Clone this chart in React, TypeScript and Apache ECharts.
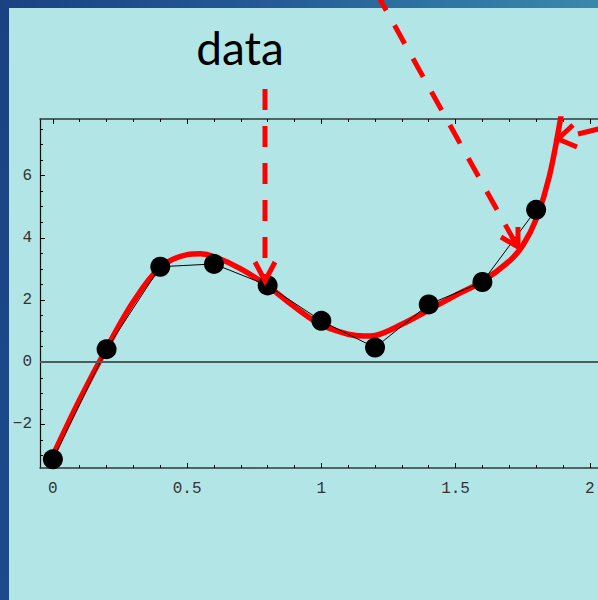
import React, { useEffect, useRef } from "react";
import * as echarts from "echarts";

// measured data points
const dataX = [0, 0.2, 0.4, 0.6, 0.8, 1.0, 1.2, 1.4, 1.6, 1.8];
const dataY = [-3.12, 0.42, 3.07, 3.16, 2.47, 1.33, 0.47, 1.86, 2.58, 4.9];

// fitted curve
const fitX = [0, 0.1, 0.2, 0.3, 0.4, 0.5, 0.55, 0.6, 0.7, 0.8, 0.9, 1.0, 1.1, 1.16, 1.2, 1.3, 1.4, 1.5, 1.6, 1.7, 1.75, 1.8, 1.85, 1.9];
const fitY = [-3.0, -1.2, 0.45, 1.95, 3.05, 3.46, 3.49, 3.4, 3.0, 2.45, 1.78, 1.2, 0.9, 0.84, 0.86, 1.22, 1.68, 2.15, 2.6, 3.25, 3.75, 4.6, 6.0, 8.3];

// tick marks and labels
const xMajor = [0, 0.5, 1, 1.5, 2];
const xMinor = [0.1, 0.2, 0.3, 0.4, 0.6, 0.7, 0.8, 0.9, 1.1, 1.2, 1.3, 1.4, 1.6, 1.7, 1.8, 1.9];
const yMajor = [-2, 0, 2, 4, 6];
const yMinor = [-3, -2.5, -1.5, -1, -0.5, 0.5, 1, 1.5, 2.5, 3, 3.5, 4.5, 5, 5.5, 6.5, 7, 7.5];

const annotationText = "data";

const X_MIN = -0.048;
const X_MAX = 2.038;
const Y_MIN = -3.4;
const Y_MAX = 7.82;

export default function App() {
  const ref = useRef<HTMLDivElement>(null);

  useEffect(() => {
    if (!ref.current) return;
    const chart = echarts.init(ref.current, undefined, { renderer: "svg" });

    const tickFont = {
      fontFamily: "Liberation Mono",
      fontSize: 16,
      color: "#333",
    };
    const frameColor = "#2e3838";

    const mkX = (pos: string, major: boolean, line: boolean, label: boolean) => ({
      type: "value",
      min: X_MIN,
      max: X_MAX,
      position: pos,
      axisLine: { show: line, onZero: false, lineStyle: { color: frameColor, width: 1.5 } },
      axisTick: {
        show: true,
        inside: true,
        length: major ? 5 : 3,
        customValues: major ? xMajor : xMinor,
        lineStyle: { color: "#000", width: 1 },
      },
      axisLabel: label
        ? { show: true, customValues: xMajor, margin: 13, ...tickFont, formatter: (v: number) => String(v) }
        : { show: false },
      splitLine: { show: false },
    });

    const mkY = (pos: string, major: boolean, line: boolean, label: boolean) => ({
      type: "value",
      min: Y_MIN,
      max: Y_MAX,
      position: pos,
      axisLine: { show: line, onZero: false, lineStyle: { color: "#111", width: 1.2 } },
      axisTick: {
        show: true,
        inside: true,
        length: major ? 5 : 3,
        customValues: major ? yMajor : yMinor,
        lineStyle: { color: "#000", width: 1 },
      },
      axisLabel: label
        ? {
            show: true,
            customValues: yMajor,
            margin: 8,
            ...tickFont,
            formatter: (v: number) => (v < 0 ? "\u2212" + Math.abs(v) : String(v)),
          }
        : { show: false },
      splitLine: { show: false },
    });

    const red = "#ff0000";

    const option: any = {
      animation: false,
      backgroundColor: "#b2e6e6",
      grid: {
        left: 40,
        top: 119,
        width: 560,
        height: 349,
        containLabel: false,
        outerBoundsMode: "none",
      },
      xAxis: [
        mkX("bottom", true, true, true),
        mkX("bottom", false, false, false),
        mkX("top", true, true, false),
        mkX("top", false, false, false),
      ],
      yAxis: [
        mkY("left", true, true, true),
        mkY("left", false, false, false),
      ],
      series: [
        {
          type: "line",
          xAxisIndex: 0,
          yAxisIndex: 0,
          data: [],
          markLine: {
            silent: true,
            symbol: ["none", "none"],
            label: { show: false },
            lineStyle: { color: "#4d5b5b", width: 2, type: "solid" },
            data: [{ yAxis: 0 }],
          },
        },
        {
          type: "line",
          xAxisIndex: 0,
          yAxisIndex: 0,
          data: fitX.map((x, i) => [x, fitY[i]]),
          smooth: 0.35,
          showSymbol: false,
          symbol: "none",
          clip: true,
          lineStyle: { color: red, width: 5.5 },
          z: 3,
        },
        {
          type: "line",
          xAxisIndex: 0,
          yAxisIndex: 0,
          data: dataX.map((x, i) => [x, dataY[i]]),
          showSymbol: false,
          symbol: "none",
          lineStyle: { color: "#000", width: 1 },
          z: 4,
        },
        {
          type: "scatter",
          xAxisIndex: 0,
          yAxisIndex: 0,
          data: dataX.map((x, i) => [x, dataY[i]]),
          symbol: "circle",
          symbolSize: 20,
          itemStyle: { color: "#000", opacity: 1 },
          z: 5,
        },
      ],
      graphic: [
        {
          type: "rect",
          z: 50,
          shape: { x: 0, y: 0, width: 9, height: 600 },
          style: {
            fill: new echarts.graphic.LinearGradient(0, 0, 0, 1, [
              { offset: 0, color: "#1a4282" },
              { offset: 1, color: "#1d4a8b" },
            ]),
          },
        },
        {
          type: "rect",
          z: 50,
          shape: { x: 0, y: 0, width: 598, height: 8 },
          style: {
            fill: new echarts.graphic.LinearGradient(0, 0, 1, 0, [
              { offset: 0, color: "#1a4282" },
              { offset: 0.45, color: "#245a96" },
              { offset: 0.75, color: "#2f76a3" },
              { offset: 1, color: "#3b88ab" },
            ]),
          },
        },
        {
          type: "text",
          z: 60,
          x: 240,
          y: 70,
          style: {
            text: annotationText,
            font: "46px Lato",
            fill: "#000",
            textAlign: "center",
            textVerticalAlign: "bottom",
          },
        },
        // vertical arrow to data point
        {
          type: "line",
          z: 60,
          shape: { x1: 265, y1: 89, x2: 265, y2: 278 },
          style: { stroke: red, lineWidth: 5, lineDash: [21, 16] },
        },
        {
          type: "polyline",
          z: 60,
          shape: { points: [[255, 262], [265, 281], [275, 262]] },
          style: { stroke: red, lineWidth: 5, fill: "none" },
        },
        // diagonal arrow from top
        {
          type: "line",
          z: 60,
          shape: { x1: 357.6, y1: -41.1, x2: 516, y2: 244 },
          style: { stroke: red, lineWidth: 5, lineDash: [21, 17] },
        },
        {
          type: "polyline",
          z: 60,
          shape: { points: [[501, 237], [518, 247], [518, 227]] },
          style: { stroke: red, lineWidth: 5, fill: "none" },
        },
        // arrow from the right
        {
          type: "line",
          z: 60,
          shape: { x1: 578, y1: 134, x2: 680, y2: 109 },
          style: { stroke: red, lineWidth: 5, lineDash: [21, 17] },
        },
        {
          type: "polyline",
          z: 60,
          shape: { points: [[573, 125], [558, 139], [577, 147]] },
          style: { stroke: red, lineWidth: 5, fill: "none" },
        },
      ],
    };

    chart.setOption(option);
    return () => chart.dispose();
  }, []);

  return (
    <div
      style={{ position: "fixed", left: 0, top: 0, width: 598, height: 600, overflow: "hidden" }}
    >
      <div ref={ref} style={{ width: 598, height: 600 }} />
    </div>
  );
}
